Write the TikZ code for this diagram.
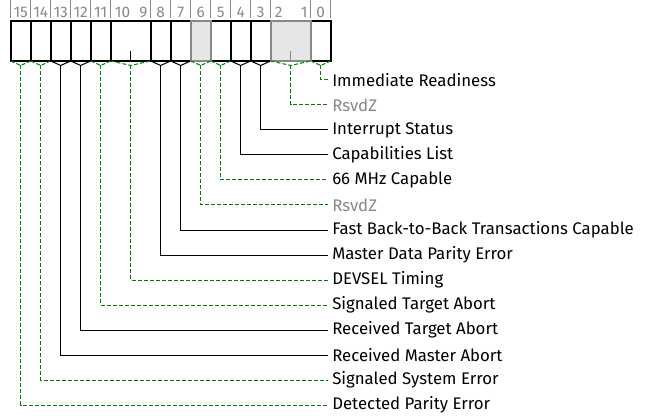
\documentclass[tikz,border=0pt]{standalone}
\usepackage{fontspec}
\setmainfont{Fira Sans}
\usetikzlibrary{calc}
\definecolor{rsvgray}{HTML}{888888}
\definecolor{rsvfill}{HTML}{E6E6E6}
\definecolor{lnkgreen}{HTML}{008000}
\begin{document}
\begin{tikzpicture}[x=0.75pt,y=-0.75pt,
  field/.style={draw=black, line width=1.5pt, minimum height=30.2pt, inner sep=0pt, outer sep=0pt, anchor=north west},
  rsvfield/.style={field, draw=rsvgray, fill=rsvfill},
  connk/.style={draw=black, line width=0.75pt},
  conng/.style={draw=lnkgreen, line width=0.75pt, dash pattern=on 3pt off 1.5pt},
  lbl/.style={anchor=west, inner xsep=3pt, inner ysep=0pt, font=\fontsize{12.6}{14}\selectfont},
  bitno/.style={text=rsvgray, inner sep=0pt, font=\fontsize{11.5}{13}\selectfont},
  tickline/.style={draw=rsvgray, line width=0.6pt}]
\useasboundingbox (0,0) rectangle (645,420);
% fields: hi/lo/row/kind/reserved/label
\foreach \hi/\lo/\row/\kind/\rsv/\txt in {
  15/15/13/g/0/Detected Parity Error,
  14/14/12/g/0/Signaled System Error,
  13/13/11/k/0/Received Master Abort,
  12/12/10/k/0/Received Target Abort,
  11/11/9/g/0/Signaled Target Abort,
  10/9/8/g/0/DEVSEL Timing,
  8/8/7/k/0/Master Data Parity Error,
  7/7/6/k/0/Fast Back-to-Back Transactions Capable,
  5/5/4/g/0/66 MHz Capable,
  4/4/3/k/0/Capabilities List,
  3/3/2/k/0/Interrupt Status,
  0/0/0/g/0/Immediate Readiness,
  6/6/5/g/1/RsvdZ,
  2/1/1/g/1/RsvdZ}
{
  \pgfmathsetmacro\xl{10.7+(15-\hi)*20}
  \pgfmathsetmacro\xr{10.7+(16-\lo)*20}
  \pgfmathsetmacro\fw{(\hi-\lo+1)*15}
  \ifnum\rsv=1
    \node[rsvfield, minimum width=\fw pt] (f\lo) at (\xl,20.7) {};
    \def\tcol{rsvgray}
  \else
    \node[field, minimum width=\fw pt] (f\lo) at (\xl,20.7) {};
    \def\tcol{black}
  \fi
  % tick marks and bit numbers above
  \draw[tickline] (\xl,0) -- (\xl,18);
  \ifnum\hi=\lo
    \node[bitno] (n\lo) at ({\xl+10},12) {\hi};
  \else
    \node[bitno, anchor=west] (n\hi) at ({\xl+4},12) {\hi};
    \node[bitno, anchor=east] (n\lo) at ({\xr-3},12) {\lo};
    \ifnum\rsv=1
      \draw[draw=rsvgray, line width=0.75pt] (f\lo.south) -- ++(0,-10);
    \else
      \draw[draw=black, line width=0.75pt] (f\lo.south) -- ++(0,-10);
    \fi
  \fi
  % label
  \node[lbl, text=\tcol] (l\lo) at (328,{80+25*\row}) {\txt};
  % bracket and leader
  \draw[conn\kind] (f\lo.south west) -- ($(f\lo.south)+(0,4.5)$) coordinate (v\lo) -- (f\lo.south east);
  \draw[conn\kind] (v\lo) |- (l\lo.west);
}
\draw[tickline] (330.7,0) -- (330.7,18);
\end{tikzpicture}
\end{document}
